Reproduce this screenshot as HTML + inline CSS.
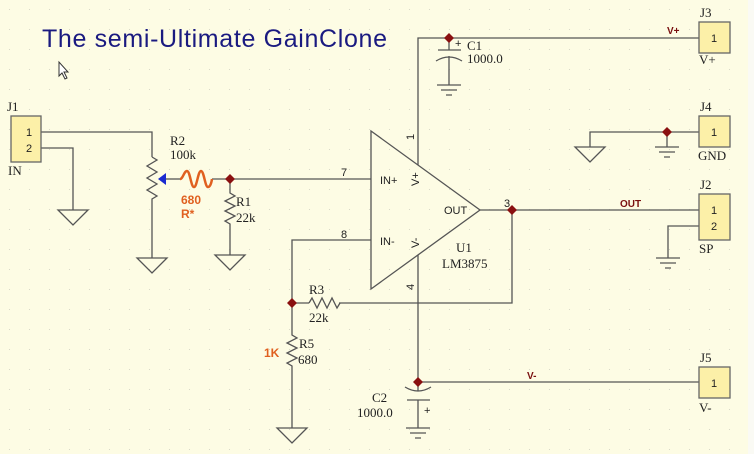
<!DOCTYPE html>
<html><head><meta charset="utf-8"><style>
html,body{margin:0;padding:0;background:#fdfce4;}
svg{display:block}
text{font-family:"Liberation Serif",serif;font-size:13px;fill:#222}
.s{font-family:"Liberation Sans",sans-serif;font-size:11px}
.r{font-family:"Liberation Sans",sans-serif;font-size:10px;font-weight:bold;fill:#7a1010}
.o{font-family:"Liberation Sans",sans-serif;font-size:12px;font-weight:bold;fill:#e06020}
</style></head><body>
<svg width="754" height="454" viewBox="0 0 754 454" xmlns="http://www.w3.org/2000/svg">
<defs><pattern id="g" width="20" height="20" patternUnits="userSpaceOnUse"><rect x="9" y="9" width="1" height="1" fill="#d8d8c8"/></pattern></defs>
<rect width="754" height="454" fill="#fdfce4"/>
<rect width="748" height="454" fill="url(#g)"/>
<rect x="748" y="0" width="6" height="454" fill="#fafaf4"/>
<text x="42" y="47" style="font-family:'Liberation Sans',sans-serif;font-size:25px;fill:#1a1a80" textLength="345">The semi-Ultimate GainClone</text>
<path d="M59 62 L59 76 L62 73 L65 79 L67 78 L64 72 L68 72 Z" fill="#fff" stroke="#333" stroke-width="1"/>
<g stroke="#555" stroke-width="1.3" fill="none">
<path d="M41 132 H152 V157"/>
<path d="M41 148 H73 V210"/>
<path d="M58 210 H88 L73 225 Z"/>
<path d="M152 157 l5 3 -10 6 10 6 -10 6 10 6 -10 6 10 6 -5 3 V258"/>
<path d="M137 258 H167 L152 273 Z"/>
<path d="M166 179 H180"/>
<path d="M212 179 H371"/>
<path d="M230 179 V193 l5 3 -10 5 10 5 -10 5 10 5 -10 5 5 3 V255"/>
<path d="M215 255 H245 L230 270 Z"/>
<path d="M371 131 V289 L480 210 Z"/>
<path d="M292 303 V240 H371"/>
<path d="M418 165 V38 H699"/>
<path d="M418 255 V382 H699"/>
<path d="M480 210 H699"/>
<path d="M512 210 V303 H339"/>
<path d="M309 303 H292"/>
<path d="M309 303 l3 -5 5 10 5 -10 5 10 5 -10 5 10 3 -5"/>
<path d="M292 303 V335 l5 3 -10 5 10 5 -10 5 10 5 -10 5 5 3 V428"/>
<path d="M277 428 H307 L292 443 Z"/>
<path d="M449 38 V50 M438 50 H461 M436 61 Q449 53 462 61 M449 56 V85 M437 85 H461 M441 90 H457 M446 95 H452"/>
<path d="M405 387 Q418 395 431 387 M407 400 H430 M418 382 V391 M418 400 V428 M406 428 H430 M410 433 H426 M415 438 H421"/>
<path d="M590 147 V132 H699 M575 147 H605 L590 162 Z M667 132 V147 M655 147 H679 M659 152 H675 M664 157 H670"/>
<path d="M699 226 H668 V258 M656 258 H680 M660 263 H676 M665 268 H671"/>
</g>
<path d="M180 179 c3 0 4 -8 7 -8 s4 16 7 16 4 -16 7 -16 4 16 7 16 4 -8 4 -8" stroke="#e06020" stroke-width="2.5" fill="none"/>
<path d="M158 179 L166 173 L166 185 Z" fill="#1a2ad0"/>
<g fill="#8a1010">
<path d="M230 174 l5 5 -5 5 -5 -5Z"/><path d="M449 33 l5 5 -5 5 -5 -5Z"/>
<path d="M667 127 l5 5 -5 5 -5 -5Z"/><path d="M512 205 l5 5 -5 5 -5 -5Z"/>
<path d="M292 298 l5 5 -5 5 -5 -5Z"/><path d="M418 377 l5 5 -5 5 -5 -5Z"/>
</g>
<g fill="#fcf0a8" stroke="#666" stroke-width="1.3">
<rect x="11" y="116" width="30" height="46"/>
<rect x="699" y="22" width="31" height="31"/>
<rect x="699" y="116" width="31" height="31"/>
<rect x="699" y="194" width="31" height="46"/>
<rect x="699" y="367" width="31" height="31"/>
</g>
<text class="s" x="26" y="136">1</text><text class="s" x="26" y="152">2</text>
<text class="s" x="711" y="42">1</text><text class="s" x="711" y="136">1</text>
<text class="s" x="711" y="214">1</text><text class="s" x="711" y="230">2</text>
<text class="s" x="711" y="387">1</text>
<text class="s" x="380" y="184">IN+</text><text class="s" x="380" y="245">IN-</text>
<text class="s" x="444" y="214">OUT</text>
<text class="s" x="341" y="176">7</text><text class="s" x="341" y="238">8</text>
<text class="s" x="504" y="207">3</text>
<text class="s" transform="translate(414,140) rotate(-90)">1</text>
<text class="s" transform="translate(414,290) rotate(-90)">4</text>
<text class="s" transform="translate(419,186) rotate(-90)">V+</text>
<text class="s" transform="translate(419,248) rotate(-90)">V-</text>
<text x="7" y="111">J1</text><text x="8" y="175">IN</text>
<text x="170" y="145">R2</text><text x="170" y="159">100k</text>
<text x="236" y="206">R1</text><text x="236" y="222">22k</text>
<text class="o" x="181" y="204">680</text><text class="o" x="181" y="218">R*</text>
<text x="456" y="252">U1</text><text x="442" y="268">LM3875</text>
<text x="309" y="294">R3</text><text x="309" y="322">22k</text>
<text x="299" y="348">R5</text><text x="298" y="364">680</text>
<text class="o" x="264" y="357">1K</text>
<text x="372" y="402">C2</text><text x="357" y="417">1000.0</text>
<text x="424" y="414" class="s">+</text>
<text x="455" y="47" class="s">+</text>
<text x="467" y="50">C1</text><text x="467" y="63">1000.0</text>
<text x="700" y="17">J3</text><text x="699" y="64">V+</text>
<text x="700" y="111">J4</text><text x="698" y="160">GND</text>
<text x="700" y="189">J2</text><text x="699" y="253">SP</text>
<text x="700" y="362">J5</text><text x="699" y="412">V-</text>
<text class="r" x="667" y="34">V+</text>
<text class="r" x="620" y="207">OUT</text>
<text class="r" x="527" y="379">V-</text>
</svg>
</body></html>
